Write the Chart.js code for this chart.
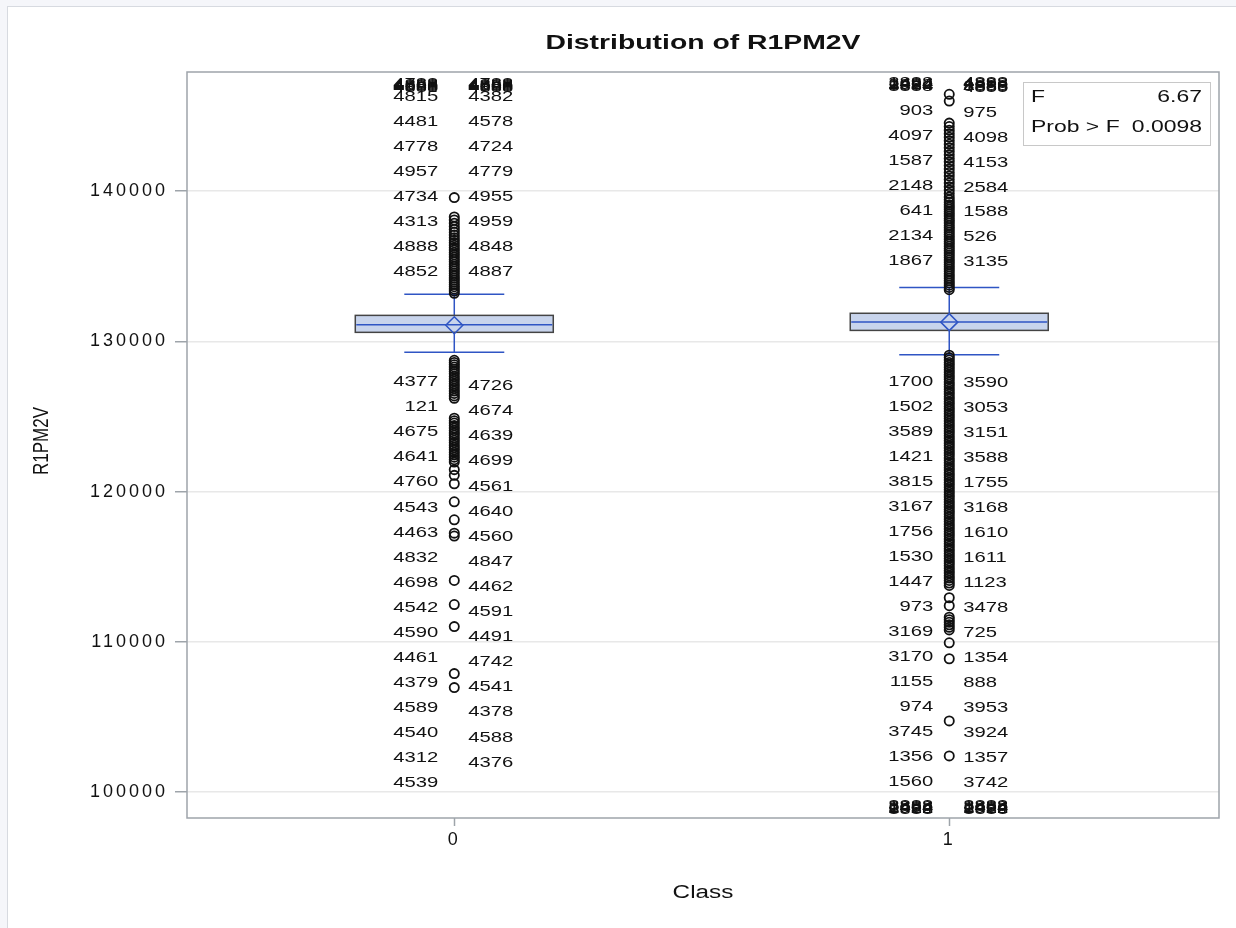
<!DOCTYPE html>
<html>
<head>
<meta charset="utf-8">
<script src="https://cdn.jsdelivr.net/npm/chart.js@4.4.1/dist/chart.umd.min.js"></script>
<style>
  html, body { margin: 0; padding: 0; background: #f5f6fa; overflow: hidden; }
  #frame { position: absolute; left: 7px; top: 6px; width: 1260px; height: 960px; background: #fff; border: 1.5px solid #d7dae0; }
  #chart { position: absolute; left: 0; top: 0; }
</style>
</head>
<body>
<div id="frame"></div>
<canvas id="chart" width="1236" height="928"></canvas>
<script>
// Box plot of R1PM2V by Class, with labelled outliers (SAS style)

const classes = ["0", "1"]
const yTicks = [100000, 110000, 120000, 130000, 140000]

const boxQ1 = [130600, 130730]
const boxMedian = [131110, 131290]
const boxQ3 = [131730, 131870]
const boxMean = [131070, 131280]
const whiskerLow = [129270, 129110]
const whiskerHigh = [133130, 133580]

const class0Outliers = [
  133200, 133350, 133490, 133640, 133780, 133930, 134080, 134220, 134370, 134530,
  134680, 134830, 134990, 135140, 135300, 135450, 135610, 135770, 135920, 136080,
  136240, 136400, 136570, 136730, 136900, 137080, 137260, 137450, 137650, 137870,
  138080, 138280, 139570,
  128740, 128600, 128450, 128300, 128150, 127990, 127840, 127660, 127500, 127340,
  127170, 127020, 126860, 126690, 126530, 126370, 126210,
  124880, 124710, 124560, 124390, 124230, 124070, 123900, 123750, 123580, 123420,
  123260, 123090, 122930, 122780, 122610, 122450, 122290, 122120, 121960,
  121460, 121080, 120520, 119320, 118120, 117230, 117040, 114080, 112480, 111010,
  107880, 106950
]

const class1Outliers = [
  146450, 146000,
  144530, 144300, 144060, 143830, 143590, 143360, 143120, 142890, 142650, 142420,
  142180, 141950, 141710, 141480, 141240, 141010, 140770, 140540, 140300, 140070,
  139840, 139610, 139420, 139260, 139100, 138950, 138800, 138640, 138490, 138340,
  138180, 138030, 137880, 137720, 137570, 137420, 137260, 137110, 136960, 136800,
  136650, 136500, 136340, 136190, 136040, 135880, 135730, 135580, 135420, 135270,
  135120, 134960, 134810, 134660, 134500, 134350, 134200, 134040, 133890, 133740,
  133590, 133440,
  129080, 128920, 128760, 128590, 128440, 128270, 128110, 127950, 127780, 127620,
  127470, 127300, 127140, 126980, 126810, 126650, 126490, 126320, 126170, 125990,
  125840, 125670, 125510, 125350, 125180, 125020, 124860, 124690, 124530, 124370,
  124200, 124040, 123880, 123710, 123550, 123390, 123220, 123060, 122900, 122730,
  122570, 122410, 122240, 122080, 121920, 121750, 121590, 121430, 121260, 121100,
  120940, 120770, 120610, 120450, 120280, 120120, 119960, 119790, 119630, 119470,
  119300, 119140, 118980, 118810, 118650, 118490, 118320, 118160, 118000, 117830,
  117670, 117510, 117340, 117180, 117020, 116850, 116690, 116530, 116360, 116200,
  116040, 115870, 115710, 115550, 115380, 115220, 115060, 114890, 114730, 114570,
  114400, 114240, 114080, 113910, 113750,
  112930, 112400, 111640, 111470, 111300, 111130, 110960, 110790, 109930, 108870,
  104730, 102400
]

const fValue = "6.67"
const probValue = "0.0098"

// outlier ids, stacked in columns beside each box
const c0TopPile = ["4788", "4868", "4888", "4968", "4888"]
const c0HighLeft = ["4815", "4481", "4778", "4957", "4734", "4313", "4888", "4852"]
const c0HighRight = ["4382", "4578", "4724", "4779", "4955", "4959", "4848", "4887"]
const c0LowLeft = ["4377", "121", "4675", "4641", "4760", "4543", "4463", "4832", "4698",
  "4542", "4590", "4461", "4379", "4589", "4540", "4312", "4539"]
const c0LowRight = ["4726", "4674", "4639", "4699", "4561", "4640", "4560", "4847", "4462",
  "4591", "4491", "4742", "4541", "4378", "4588", "4376"]
const c1TopPileLeft = ["3888", "1494", "2922", "3884", "8888"]
const c1TopPileRight = ["4888", "4898", "1888", "8888", "4855"]
const c1HighLeft = ["903", "4097", "1587", "2148", "641", "2134", "1867"]
const c1HighRight = ["975", "4098", "4153", "2584", "1588", "526", "3135"]
const c1LowLeft = ["1700", "1502", "3589", "1421", "3815", "3167", "1756", "1530", "1447",
  "973", "3169", "3170", "1155", "974", "3745", "1356", "1560"]
const c1LowRight = ["3590", "3053", "3151", "3588", "1755", "3168", "1610", "1611", "1123",
  "3478", "725", "1354", "888", "3953", "3924", "1357", "3742"]
const c1BottomPile = ["3888", "8888", "1494", "2922", "8888"]

const FONT = "'Liberation Sans', Arial, sans-serif"
const STRETCH = 1.35
const BLUE = "#2f55c4"
const BOX_FILL = "#c8d4ec"

// label columns: class index, side, value of first label, pixel step
const labelColumns = [
  [0, "left", 147130, 0.9, c0TopPile],
  [0, "right", 147130, 0.9, c0TopPile],
  [0, "left", 146300, 25, c0HighLeft],
  [0, "right", 146300, 25.1, c0HighRight],
  [0, "left", 127290, 25.06, c0LowLeft],
  [0, "right", 127030, 25.1, c0LowRight],
  [1, "left", 147200, 0.9, c1TopPileLeft],
  [1, "right", 147200, 1.2, c1TopPileRight],
  [1, "left", 145330, 25, c1HighLeft],
  [1, "right", 145200, 24.8, c1HighRight],
  [1, "left", 127330, 25, c1LowLeft],
  [1, "right", 127270, 25, c1LowRight],
  [1, "left", 99070, 0.9, c1BottomPile],
  [1, "right", 99070, 0.9, c1BottomPile]
]

function stretchText(ctx, text, x, y, align, font, sx) {
  ctx.save()
  ctx.letterSpacing = "0px"
  ctx.translate(x, y)
  ctx.scale(sx, 1)
  ctx.font = font
  ctx.fillStyle = "#111"
  ctx.textAlign = align
  ctx.textBaseline = "middle"
  ctx.fillText(text, 0, 0)
  ctx.restore()
}

const spacingPlugin = {
  id: "spacing",
  beforeDraw(chart) { chart.ctx.letterSpacing = "3px" },
  afterDraw(chart) { chart.ctx.letterSpacing = "0px" }
}

const boxPlugin = {
  id: "boxes",
  beforeDatasetsDraw(chart) {
    const { ctx, scales: { x, y } } = chart
    ctx.save()
    classes.forEach((c, i) => {
      const cx = x.getPixelForValue(i)
      const half = x.getPixelForValue(i + 0.2) - cx
      const cap = x.getPixelForValue(i + 0.101) - cx
      const top = y.getPixelForValue(boxQ3[i])
      const bot = y.getPixelForValue(boxQ1[i])
      const hi = y.getPixelForValue(whiskerHigh[i])
      const lo = y.getPixelForValue(whiskerLow[i])

      ctx.strokeStyle = BLUE
      ctx.lineWidth = 1.5
      ctx.beginPath()
      ctx.moveTo(cx, hi); ctx.lineTo(cx, top)
      ctx.moveTo(cx, bot); ctx.lineTo(cx, lo)
      ctx.moveTo(cx - cap, hi); ctx.lineTo(cx + cap, hi)
      ctx.moveTo(cx - cap, lo); ctx.lineTo(cx + cap, lo)
      ctx.stroke()

      ctx.fillStyle = BOX_FILL
      ctx.fillRect(cx - half, top, half * 2, bot - top)
      ctx.strokeStyle = "#444"
      ctx.strokeRect(cx - half, top, half * 2, bot - top)

      const med = y.getPixelForValue(boxMedian[i])
      ctx.strokeStyle = BLUE
      ctx.beginPath()
      ctx.moveTo(cx - half + 1, med); ctx.lineTo(cx + half - 1, med)
      ctx.stroke()

      const mean = y.getPixelForValue(boxMean[i])
      ctx.beginPath()
      ctx.moveTo(cx, mean - 8.5)
      ctx.lineTo(cx + 8.5, mean)
      ctx.lineTo(cx, mean + 8.5)
      ctx.lineTo(cx - 8.5, mean)
      ctx.closePath()
      ctx.stroke()
    })
    ctx.restore()
  }
}

const labelPlugin = {
  id: "outlierLabels",
  afterDatasetsDraw(chart) {
    const { ctx, chartArea: a, scales: { x, y } } = chart
    ctx.save()
    ctx.beginPath()
    ctx.rect(a.left, a.top, a.right - a.left, a.bottom - a.top)
    ctx.clip()
    labelColumns.forEach(([cls, side, start, step, texts]) => {
      const cx = x.getPixelForValue(cls)
      const lx = side === "left" ? cx - 16 : cx + 14
      const y0 = y.getPixelForValue(start)
      texts.forEach((t, k) => {
        stretchText(ctx, t, lx, y0 + k * step, side === "left" ? "right" : "left",
          "15px " + FONT, STRETCH)
      })
    })
    ctx.restore()
  }
}

const decorPlugin = {
  id: "decor",
  afterDraw(chart) {
    const { ctx, chartArea: a } = chart
    ctx.save()
    ctx.strokeStyle = "#9ea4aa"
    ctx.lineWidth = 1.5
    ctx.strokeRect(a.left, a.top, a.right - a.left, a.bottom - a.top)

    const midX = (a.left + a.right) / 2
    stretchText(ctx, "Distribution of R1PM2V", midX, 43, "center", "bold 21px " + FONT, STRETCH)
    stretchText(ctx, "Class", midX, 893, "center", "18px " + FONT, STRETCH)

    ctx.save()
    ctx.translate(42, (a.top + a.bottom) / 2 - 4)
    ctx.rotate(-Math.PI / 2)
    ctx.scale(1, STRETCH)
    ctx.letterSpacing = "0px"
    ctx.font = "17px " + FONT
    ctx.fillStyle = "#111"
    ctx.textAlign = "center"
    ctx.textBaseline = "middle"
    ctx.fillText("R1PM2V", 0, 0)
    ctx.restore()

    // F statistic inset
    const bx = a.right - 196, by = a.top + 10
    ctx.fillStyle = "#fff"
    ctx.fillRect(bx, by, 187, 63)
    ctx.strokeStyle = "#c8c8c8"
    ctx.lineWidth = 1
    ctx.strokeRect(bx + 0.5, by + 0.5, 187, 63)
    stretchText(ctx, "F", bx + 8, by + 15, "left", "17px " + FONT, STRETCH)
    stretchText(ctx, fValue, bx + 179, by + 15, "right", "17px " + FONT, STRETCH)
    stretchText(ctx, "Prob > F", bx + 8, by + 45, "left", "17px " + FONT, STRETCH)
    stretchText(ctx, probValue, bx + 179, by + 45, "right", "17px " + FONT, STRETCH)
    ctx.restore()
  }
}

new Chart(document.getElementById("chart"), {
  type: "scatter",
  data: {
    datasets: [
      { label: "Class 0", data: class0Outliers.map(v => ({ x: 0, y: v })) },
      { label: "Class 1", data: class1Outliers.map(v => ({ x: 1, y: v })) }
    ]
  },
  options: {
    responsive: false,
    animation: false,
    events: [],
    layout: { padding: { top: 72, right: 17, bottom: 0, left: 0 } },
    elements: {
      point: {
        radius: 4.6,
        hoverRadius: 4.6,
        borderWidth: 1.8,
        borderColor: "#111",
        backgroundColor: "rgba(0,0,0,0)"
      }
    },
    plugins: {
      legend: { display: false },
      tooltip: { enabled: false },
      title: { display: false }
    },
    scales: {
      x: {
        type: "linear",
        min: -0.54,
        max: 1.545,
        afterBuildTicks: s => { s.ticks = classes.map((c, i) => ({ value: i })) },
        afterFit: s => { s.height = 110 },
        ticks: {
          callback: v => classes[v],
          color: "#111",
          font: { family: FONT, size: 18 },
          padding: 3,
          autoSkip: false,
          maxRotation: 0
        },
        grid: { drawOnChartArea: false, tickLength: 8, tickColor: "#9ea4aa", tickWidth: 1.5 },
        border: { display: false }
      },
      y: {
        min: 98267,
        max: 147933,
        afterBuildTicks: s => { s.ticks = yTicks.map(v => ({ value: v })) },
        afterFit: s => { s.width = 187 },
        ticks: {
          callback: v => String(v),
          color: "#111",
          font: { family: FONT, size: 18 },
          padding: 7
        },
        grid: { color: "#e8e8e8", lineWidth: 1.5, tickLength: 12, tickColor: "#9ea4aa", tickWidth: 1.5 },
        border: { display: false }
      }
    }
  },
  plugins: [spacingPlugin, boxPlugin, labelPlugin, decorPlugin]
})
</script>
</body>
</html>
